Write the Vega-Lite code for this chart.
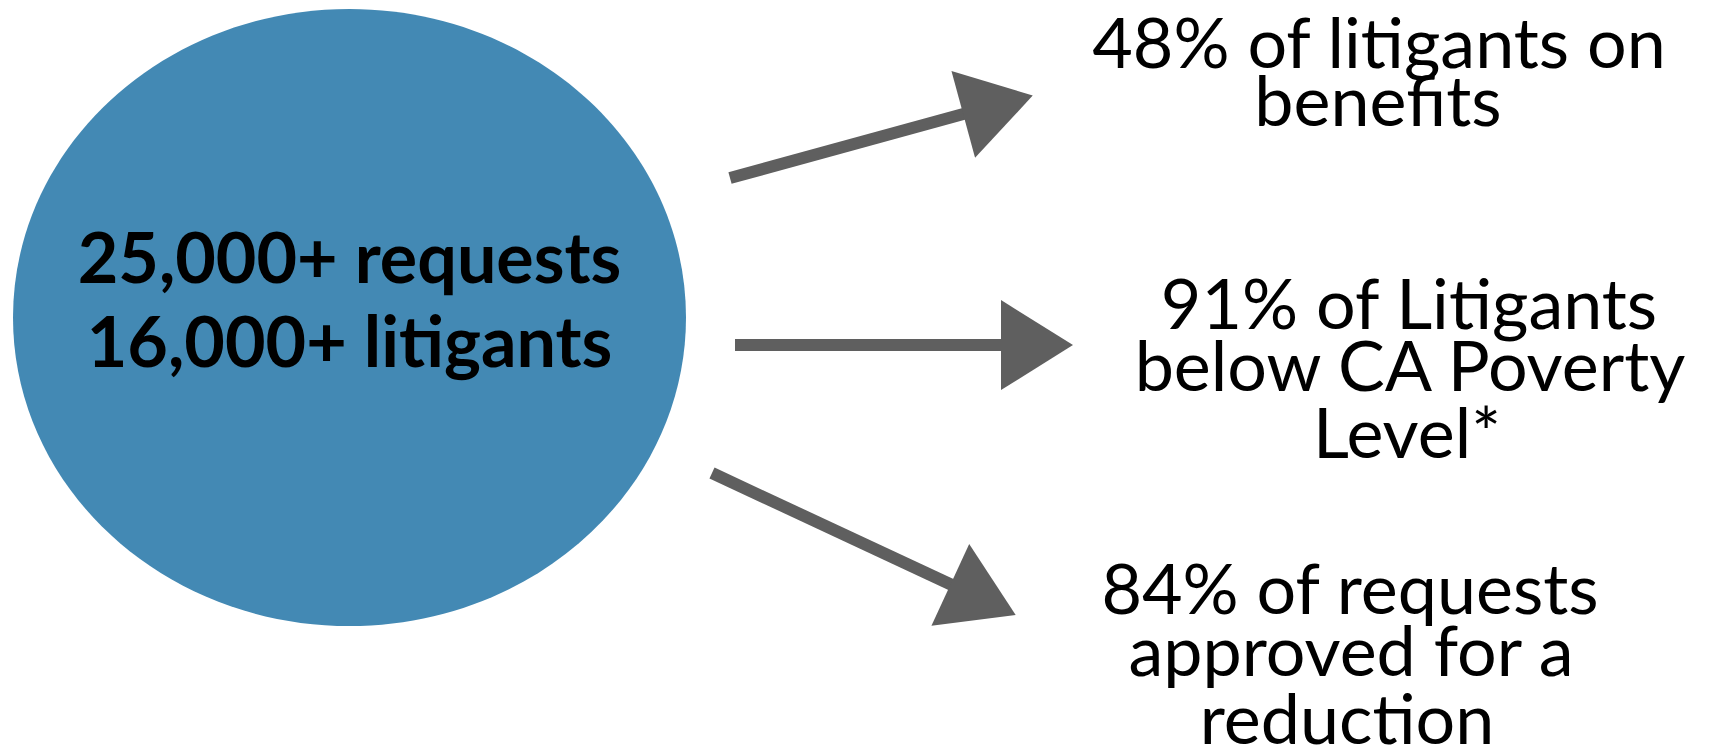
{
  "$schema": "https://vega.github.io/schema/vega-lite/v6.json",
  "width": 1718,
  "height": 751,
  "padding": 0,
  "autosize": {"type": "none"},
  "background": "white",
  "config": {"view": {"stroke": null}},
  "datasets": {
    "hub": [{"x": 349.5, "y": 317.5, "what": "litigant requests"}],
    "shafts": [
      {"id": "benefits", "x": 730, "y": 178, "x2": 967, "y2": 113},
      {"id": "poverty", "x": 735, "y": 345, "x2": 1002, "y2": 345},
      {"id": "approved", "x": 712, "y": 473, "x2": 952, "y2": 585}
    ],
    "heads": [
      {"id": "benefits", "x": 998, "y": 105, "angle": 344.8},
      {"id": "poverty", "x": 1037, "y": 345, "angle": 0},
      {"id": "approved", "x": 983, "y": 600, "angle": 24.8}
    ],
    "hubText": [
      {"x": 349.5, "y": 283, "label": "25,000+ requests"},
      {"x": 349.5, "y": 367, "label": "16,000+ litigants"}
    ],
    "facts": [
      {"x": 1379, "y": 68, "label": "48% of litigants on"},
      {"x": 1378, "y": 126, "label": "benefits"},
      {"x": 1409, "y": 329, "label": "91% of Litigants"},
      {"x": 1410, "y": 391, "label": "below CA Poverty"},
      {"x": 1407, "y": 458, "label": "Level*"},
      {"x": 1350, "y": 614, "label": "84% of requests"},
      {"x": 1351, "y": 676, "label": "approved for a"},
      {"x": 1347, "y": 744, "label": "reduction"}
    ]
  },
  "encoding": {
    "x": {"field": "x", "type": "quantitative", "scale": {"domain": [0, 1718], "nice": false, "zero": false}, "axis": null},
    "y": {"field": "y", "type": "quantitative", "scale": {"domain": [0, 751], "nice": false, "zero": false, "reverse": true}, "axis": null}
  },
  "layer": [
    {
      "data": {"name": "hub"},
      "mark": {
        "type": "point",
        "shape": "M -1 0 A 1 0.917 0 1 1 1 0 A 1 0.917 0 1 1 -1 0 Z",
        "size": 452929,
        "filled": true,
        "color": "#4389B4",
        "opacity": 1,
        "strokeWidth": 0
      }
    },
    {
      "data": {"name": "shafts"},
      "mark": {"type": "rule", "color": "#5F5F5F", "strokeWidth": 12, "strokeCap": "butt"},
      "encoding": {
        "x2": {"field": "x2"},
        "y2": {"field": "y2"}
      }
    },
    {
      "data": {"name": "heads"},
      "mark": {
        "type": "point",
        "shape": "M -0.8 -1 L 0.8 0 L -0.8 1 Z",
        "size": 8100,
        "filled": true,
        "color": "#5F5F5F",
        "opacity": 1,
        "strokeWidth": 0
      },
      "encoding": {
        "angle": {"field": "angle", "type": "quantitative", "scale": null}
      }
    },
    {
      "data": {"name": "hubText"},
      "mark": {"type": "text", "font": "Lato", "fontSize": 70, "fontWeight": "bold", "color": "#000000", "align": "center", "baseline": "alphabetic"},
      "encoding": {"text": {"field": "label"}}
    },
    {
      "data": {"name": "facts"},
      "mark": {"type": "text", "font": "Lato", "fontSize": 70, "color": "#000000", "align": "center", "baseline": "alphabetic"},
      "encoding": {"text": {"field": "label"}}
    }
  ]
}
